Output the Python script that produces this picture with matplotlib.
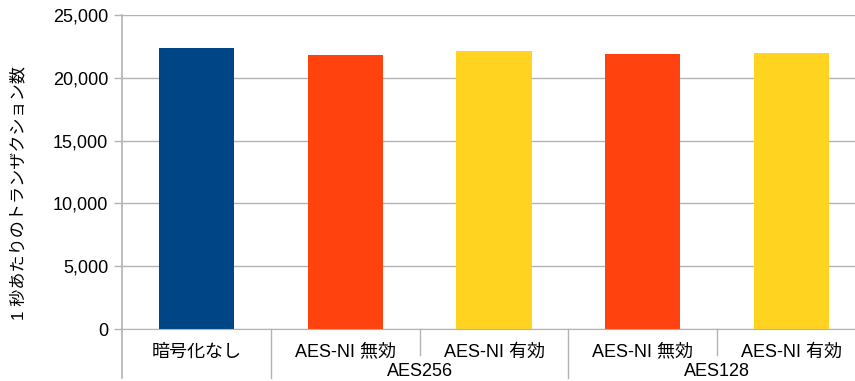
import matplotlib.pyplot as plt
from matplotlib.ticker import FuncFormatter

plt.rcParams['font.family'] = ['Liberation Sans', 'Noto Sans CJK JP', 'DejaVu Sans']

# data
categories = ['暗号化なし', 'AES-NI 無効', 'AES-NI 有効', 'AES-NI 無効', 'AES-NI 有効']
groups = ['AES256', 'AES128']
group_members = [[1, 2], [3, 4]]
tps = [22370, 21840, 22160, 21920, 22000]
bar_colors = ['#004586', '#ff420e', '#ffd320', '#ff420e', '#ffd320']
ylabel = '1 秒あたりのトランザクション数'

grey = '#b3b3b3'
W, H = 855, 381

fig = plt.figure(figsize=(W / 100, H / 100), dpi=100)
# plot area runs a bit past the right edge, like the original
ax = fig.add_axes([122 / W, 1 - 329 / H, 744 / W, 314 / H])

x = list(range(len(categories)))
ax.bar(x, tps, width=0.505, color=bar_colors, zorder=2)

ax.set_xlim(-0.5, len(categories) - 0.5)
ax.set_ylim(0, 25000)
ax.set_yticks(range(0, 25001, 5000))
ax.yaxis.set_major_formatter(FuncFormatter(lambda v, p: f'{int(v):,}'))
ax.tick_params(axis='y', direction='out', length=6, width=1, color=grey,
               labelsize=13, pad=4, labelcolor='black')
ax.set_xticks([])
ax.yaxis.grid(True, color=grey, linewidth=1)
ax.set_axisbelow(True)

for s in ['top', 'right']:
    ax.spines[s].set_visible(False)
ax.spines['bottom'].set_color(grey)
ax.spines['left'].set_color(grey)
ax.spines['left'].set_linewidth(1.2)

trans = ax.get_xaxis_transform()
low = (329 - 378) / 314
mid = (329 - 355) / 314

# category separators
ax.plot([-0.5, -0.5], [0, low], color=grey, lw=1.2, transform=trans, clip_on=False)
for i in range(1, len(categories)):
    bottom = low if i in (1, 3) else mid
    ax.plot([i - 0.5, i - 0.5], [0, bottom], color=grey, lw=1, transform=trans, clip_on=False)

row1 = (329 - 352) / 314
row2 = (329 - 372) / 314
for i, c in enumerate(categories):
    ax.text(i, row1, c, ha='center', va='center', fontsize=13, transform=trans)
for g, m in zip(groups, group_members):
    ax.text(sum(m) / len(m), row2, g, ha='center', va='center', fontsize=13, transform=trans)

fig.text(19 / W, 1 - 193 / H, ylabel, rotation=90, ha='center', va='center', fontsize=12.3)

fig.savefig('out.png', dpi=100)
